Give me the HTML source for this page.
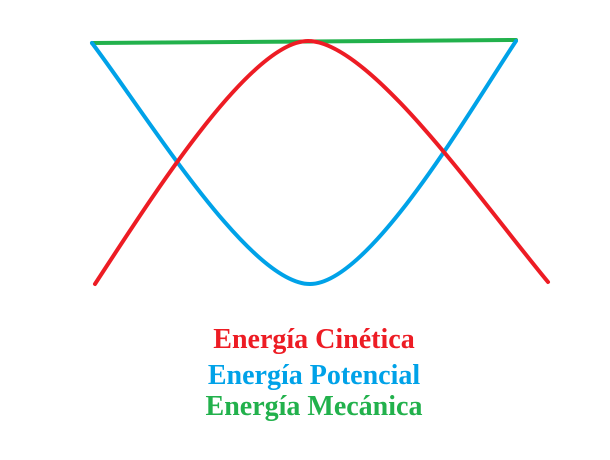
<!DOCTYPE html>
<html><head><style>
html,body{margin:0;padding:0;background:#fff;}
body{width:610px;height:460px;position:relative;overflow:hidden;}
svg{position:absolute;left:0;top:0;}
</style></head><body>
<svg width="610" height="460" viewBox="0 0 610 460">
<path d="M92 43 L516 40" stroke="#22b14c" stroke-width="4" fill="none" stroke-linecap="round"/>
<path d="M92 43 C150 120 250 284 310 284 C370 284 470 110 516 41" stroke="#00a2e8" stroke-width="4" fill="none" stroke-linecap="round"/>
<path d="M95 284 C150 200 250 41 308 41 C370 41 480 200 548 282" stroke="#ed1c24" stroke-width="4" fill="none" stroke-linecap="round"/>
<g font-family="'Liberation Serif', serif" font-weight="bold" font-size="28" text-anchor="middle">
<text x="314" y="348" fill="#ed1c24">Energía Cinética</text>
<text x="314" y="384" fill="#00a2e8">Energía Potencial</text>
<text x="314" y="415" fill="#22b14c">Energía Mecánica</text>
</g>
</svg>
</body></html>
